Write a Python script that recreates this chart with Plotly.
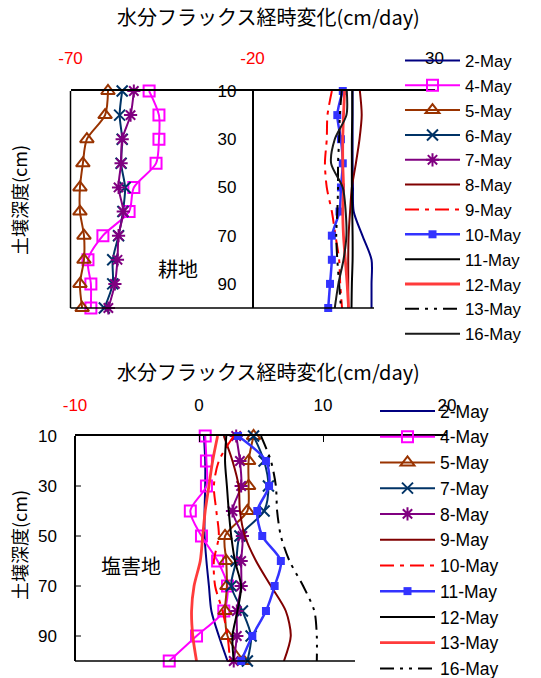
import plotly.graph_objects as go

# ---------------- data ----------------
depth = [10, 20, 30, 40, 50, 60, 70, 80, 90, 100]

# 耕地 (top chart)
top_names = ["2-May", "4-May", "5-May", "6-May", "7-May", "8-May", "9-May",
             "10-May", "11-May", "12-May", "13-May", "16-May"]
top_flux = [
    [7.5, 7.5, 7.5, 7.5, 7.6, 7.8, 10.2, 12.7, 12.7, 12.7],            # 2-May
    [-48.4, -45.7, -45.7, -46.5, -52.6, -53.9, -61.1, -65.2, -64.4, -64.4],  # 4-May
    [-59.7, -60.5, -65.5, -66.6, -67.4, -67.4, -66.3, -66.3, -67.4, -66.8],  # 5-May
    [-55.8, -56.5, -55.8, -56.1, -55.0, -55.6, -56.8, -58.4, -58.4, -60.7],  # 6-May
    [-52.6, -53.5, -55.8, -56.1, -56.8, -55.5, -56.8, -57.1, -57.8, -59.6],  # 7-May
    [9.5, 10.0, 9.4, 8.4, 7.3, 6.8, 6.4, 6.3, 6.3, 6.3],               # 8-May
    [1.8, 0.6, 0.4, -0.1, 0.4, 1.8, 2.8, 3.8, 4.1, 4.6],               # 9-May
    [4.8, 3.3, 4.3, 4.8, 4.3, 3.9, 1.8, 1.8, 1.3, 0.8],                # 10-May
    [7.4, 7.4, 7.3, 7.3, 7.3, 7.4, 7.5, 7.5, 7.3, 7.2],                # 11-May
    [5.3, 5.0, 4.8, 4.8, 5.0, 4.8, 5.0, 5.5, 6.0, 6.4],                # 12-May
    [4.5, 4.0, 3.8, 3.5, 3.5, 3.3, 3.0, 3.3, 3.8, 4.3],                # 13-May
    [5.9, 5.8, 2.6, 1.6, 4.8, 5.6, 5.8, 5.0, 3.6, 2.6],                # 16-May
]

# 塩害地 (bottom chart)
bot_names = ["2-May", "4-May", "5-May", "7-May", "8-May", "9-May", "10-May",
             "11-May", "12-May", "13-May", "16-May"]
bot_flux = [
    [0.4, 0.5, 0.5, 0.45, 0.45, 0.6, 0.8, 1.0, 1.6, 2.3],       # 2-May
    [0.5, 0.6, 0.6, -0.7, 0.2, 1.5, 2.3, 2.0, -0.2, -2.4],      # 4-May
    [4.4, 4.0, 4.0, 3.9, 2.1, 2.2, 2.25, 2.1, 2.3, 3.6],        # 5-May
    [4.4, 5.25, 5.6, 5.25, 3.3, 3.0, 2.6, 3.5, 4.2, 3.9],       # 7-May
    [3.0, 3.3, 3.4, 2.7, 3.5, 3.4, 3.4, 3.05, 3.05, 2.8],       # 8-May
    [2.0, 2.7, 3.2, 3.3, 3.7, 4.6, 5.8, 7.0, 7.4, 6.85],        # 9-May
    [2.8, 1.6, 1.2, 1.4, 1.6, 1.2, 1.3, 1.9, 2.3, 2.5],         # 10-May
    [3.15, 5.4, 5.65, 4.7, 5.1, 6.6, 6.1, 5.4, 4.3, 3.4],       # 11-May
    [2.2, 2.1, 2.25, 2.4, 2.6, 2.9, 3.4, 3.1, 2.7, 2.8],        # 12-May
    [1.5, 1.1, 0.8, 0.5, 0.3, 0.1, -0.4, -0.6, -0.5, -0.2],     # 13-May
    [5.0, 5.8, 6.2, 6.3, 6.6, 7.3, 8.4, 9.3, 9.5, 9.5],         # 16-May
]

top_xticks = [-70, -20, 30]
bot_xticks = [-10, 0, 10, 20]
depth_ticks = [10, 30, 50, 70, 90]

title_text = "水分フラックス経時変化(cm/day)"
ytitle_text = "土壌深度(cm)"

# ---------------- styles ----------------
STYLES = [
    dict(color="#000080", width=2, dash="solid", symbol=None),
    dict(color="#FF00FF", width=2, dash="solid", symbol="square-open", size=11),
    dict(color="#993300", width=2, dash="solid", symbol="triangle-up-open", size=12),
    dict(color="#003366", width=2, dash="solid", symbol="x-thin-open", size=11),
    dict(color="#800080", width=2, dash="solid", symbol="asterisk-open", size=11),
    dict(color="#800000", width=2, dash="solid", symbol=None),
    dict(color="#FF0000", width=2, dash="14px,6px,4px,6px", symbol=None),
    dict(color="#3333FF", width=2.5, dash="solid", symbol="square", size=8),
    dict(color="#000000", width=2, dash="solid", symbol=None),
    dict(color="#FF3B3B", width=2.8, dash="solid", symbol=None),
    dict(color="#000000", width=2, dash="14px,6px,3px,6px,3px,6px", symbol=None),
    dict(color="#1A1A1A", width=2, dash="solid", symbol=None),
]

W, H = 541, 678
FONT = "Liberation Sans, Arial, sans-serif"
JFONT = "Noto Sans CJK JP, sans-serif"


def px_x(p):
    return p / W


def px_y(p):
    return 1 - p / H


fig = go.Figure()


def add_series(names, values, xa, ya, legend):
    for i, (nm, vals) in enumerate(zip(names, values)):
        st = STYLES[i]
        mode = "lines+markers" if st["symbol"] else "lines"
        marker = None
        if st["symbol"]:
            if st["symbol"] == "square":
                marker = dict(symbol="square", size=st["size"], color=st["color"])
            else:
                marker = dict(symbol=st["symbol"], size=st["size"], color=st["color"],
                              line=dict(color=st["color"], width=2))
        fig.add_trace(go.Scatter(
            x=vals, y=depth, name=nm, mode=mode, xaxis=xa, yaxis=ya,
            line=dict(color=st["color"], width=st["width"], dash=st["dash"],
                      shape="spline", smoothing=0.8),
            marker=marker, legend=legend, cliponaxis=False,
        ))


add_series(top_names, top_flux, "x", "y", "legend")
add_series(bot_names, bot_flux, "x2", "y2", "legend2")


def tick_text(vals):
    out = []
    for v in vals:
        if v < 0:
            out.append('<span style="color:#FF0000">%d</span>' % v)
        else:
            out.append(str(v))
    return out


tick_font = dict(family=FONT, size=17, color="#000000")

top_xdom = [px_x(70.5), px_x(434.5)]
bot_xdom = [px_x(75), px_x(447)]

fig.update_layout(
    width=W, height=H,
    margin=dict(l=0, r=0, t=0, b=0, pad=0, autoexpand=False),
    paper_bgcolor="white", plot_bgcolor="white",
    showlegend=True,
    xaxis=dict(domain=top_xdom, range=[-70, 30], side="top", anchor="y",
               tickvals=top_xticks, ticktext=tick_text(top_xticks),
               showgrid=False, zeroline=False, showline=True, linecolor="black",
               linewidth=1.5, ticks="inside", ticklen=6, tickcolor="black",
               tickfont=tick_font, ticklabelstandoff=18),
    yaxis=dict(domain=[px_y(308), px_y(91)], range=[100, 10], anchor="free",
               position=(70.5 + 0.5 * 364) / W, side="left",
               tickvals=depth_ticks, showgrid=False, zeroline=False,
               showline=True, linecolor="black", linewidth=1.5,
               ticks="", tickfont=tick_font, ticklabelstandoff=12),
    xaxis2=dict(domain=bot_xdom, range=[-10, 20], side="top", anchor="y2",
                tickvals=bot_xticks, ticktext=tick_text(bot_xticks),
                showgrid=False, zeroline=False, showline=True, linecolor="black",
                linewidth=1.5, ticks="inside", ticklen=6, tickcolor="black",
                tickfont=tick_font, ticklabelstandoff=16),
    yaxis2=dict(domain=[px_y(661), px_y(436)], range=[100, 10], anchor="free",
                position=75 / W, side="left",
                tickvals=depth_ticks, showgrid=False, zeroline=False,
                showline=True, linecolor="black", linewidth=1.5,
                ticks="", tickfont=tick_font, ticklabelstandoff=14),
    legend=dict(x=px_x(400), y=px_y(43), xanchor="left", yanchor="top",
                bgcolor="rgba(0,0,0,0)", borderwidth=0,
                font=dict(family=FONT, size=16.8, color="black"),
                itemwidth=55, tracegroupgap=0),
    legend2=dict(x=px_x(375), y=px_y(393), xanchor="left", yanchor="top",
                 bgcolor="rgba(0,0,0,0)", borderwidth=0,
                 font=dict(family=FONT, size=17.5, color="black"),
                 itemwidth=55, tracegroupgap=0),
)

# plot-area borders
fig.add_shape(type="line", xref="x domain", yref="y domain", x0=0, x1=0, y0=0, y1=1,
              line=dict(color="black", width=1.5))
fig.add_shape(type="line", xref="x domain", yref="y domain", x0=0, x1=(374 - 70.5) / 364,
              y0=0, y1=0, line=dict(color="black", width=1.5))
fig.add_shape(type="line", xref="x2 domain", yref="y2 domain", x0=0, x1=(355 - 75) / 372,
              y0=0, y1=0, line=dict(color="black", width=1.5))
# inside tick marks on the lower chart's depth axis
for d in depth_ticks[1:]:
    fig.add_shape(type="line", xref="x2 domain", yref="y2", x0=0, x1=6 / 372,
                  y0=d, y1=d, line=dict(color="black", width=1))

ann_font = dict(family=JFONT, size=20, color="black")
fig.add_annotation(text=title_text, x=px_x(268), y=px_y(16), xref="paper", yref="paper",
                   showarrow=False, font=ann_font, xanchor="center", yanchor="middle")
fig.add_annotation(text=title_text, x=px_x(268), y=px_y(371), xref="paper", yref="paper",
                   showarrow=False, font=ann_font, xanchor="center", yanchor="middle")
fig.add_annotation(text=ytitle_text, x=px_x(19), y=px_y(200), xref="paper", yref="paper",
                   showarrow=False, textangle=-90, font=dict(family=JFONT, size=18, color="black"),
                   xanchor="center", yanchor="middle")
fig.add_annotation(text=ytitle_text, x=px_x(19), y=px_y(545), xref="paper", yref="paper",
                   showarrow=False, textangle=-90, font=dict(family=JFONT, size=18, color="black"),
                   xanchor="center", yanchor="middle")
fig.add_annotation(text="耕地", x=px_x(178), y=px_y(268), xref="paper", yref="paper",
                   showarrow=False, font=dict(family=JFONT, size=20, color="black"),
                   xanchor="center", yanchor="middle")
fig.add_annotation(text="塩害地", x=px_x(131), y=px_y(565), xref="paper", yref="paper",
                   showarrow=False, font=dict(family=JFONT, size=20, color="black"),
                   xanchor="center", yanchor="middle")

fig.write_html("out.html", config={"displayModeBar": False},
               post_script="document.body.style.margin='0px';")
